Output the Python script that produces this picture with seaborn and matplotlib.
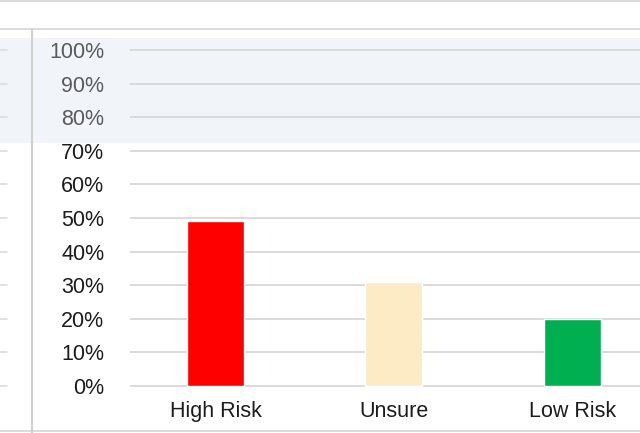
import matplotlib
matplotlib.use("Agg")
import matplotlib.pyplot as plt
import matplotlib.transforms as mtransforms
from matplotlib.patches import Rectangle
from matplotlib.lines import Line2D
import numpy as np
import pandas as pd
import seaborn as sns

# Risk assessment shares
categories = ["High Risk", "Unsure", "Low Risk"]
shares = [0.49, 0.31, 0.20]
bar_colors = ["#ff0000", "#fdebc6", "#00b050"]
tick_values = [0.0, 0.1, 0.2, 0.3, 0.4, 0.5, 0.6, 0.7, 0.8, 0.9, 1.0]
tick_labels = ["0%", "10%", "20%", "30%", "40%", "50%", "60%", "70%", "80%", "90%", "100%"]

sns.set_style("white")
plt.rcParams["font.family"] = ["Liberation Sans", "DejaVu Sans"]

W, H = 640, 433
fig = plt.figure(figsize=(W / 100, H / 100), dpi=100)
fig.patch.set_facecolor("white")

def fx(px):
    return px / W

def fy(py):
    return 1 - py / H

# window chrome: header strip, side panel divider, shaded upper band
fig.add_artist(Rectangle((0, fy(143)), 1, fy(38) - fy(143), transform=fig.transFigure,
                         facecolor="#f1f5fa", edgecolor="none", zorder=0))
for y in (1, 29, 431):
    fig.add_artist(Line2D([0, 1], [fy(y), fy(y)], transform=fig.transFigure,
                          color="#d4d4d4", lw=1.2, zorder=1))
fig.add_artist(Line2D([fx(32), fx(32)], [fy(29), fy(433)], transform=fig.transFigure,
                      color="#d0d0d0", lw=1.5, zorder=1))

# plotting area: 0% sits at y=386 px, 100% at y=50 px
top_px, bot_px = 38, 400
ax = fig.add_axes([fx(130), fy(bot_px), 1 - fx(130), fy(top_px) - fy(bot_px)])
ax.patch.set_alpha(0)
v_top = (386 - top_px) / 336
v_bot = (386 - bot_px) / 336

df = pd.DataFrame({"category": categories, "share": shares})
sns.barplot(data=df, x="category", y="share", hue="category", palette=bar_colors,
            width=0.32, saturation=1, legend=False, ax=ax, zorder=3)

ax.set_ylim(v_bot, v_top)
ax.set_xlim(-0.48, 2.38)
ax.set_yticks(tick_values)
ax.set_yticklabels(tick_labels)
for v in tick_values:
    ax.axhline(v, color="#dadada", lw=1.4, zorder=1)

# short tick stubs at the left edge of the side panel
stub = mtransforms.blended_transform_factory(fig.transFigure, ax.transData)
for v in tick_values:
    fig.add_artist(Line2D([0, fx(7)], [v, v], transform=stub, color="#dcdcdc", lw=1.2))

for s in ax.spines.values():
    s.set_visible(False)
ax.set_xlabel("")
ax.set_ylabel("")
ax.tick_params(axis="y", length=0, pad=18.5, labelsize=15.5)
ax.tick_params(axis="x", length=0, pad=1, labelsize=15.5)
for lab, v in zip(ax.get_yticklabels(), tick_values):
    lab.set_color("#5a5a5a" if v >= 0.8 else "#1c1c1c")
for lab in ax.get_xticklabels():
    lab.set_color("#1c1c1c")

fig.savefig("out.png", dpi=100)
